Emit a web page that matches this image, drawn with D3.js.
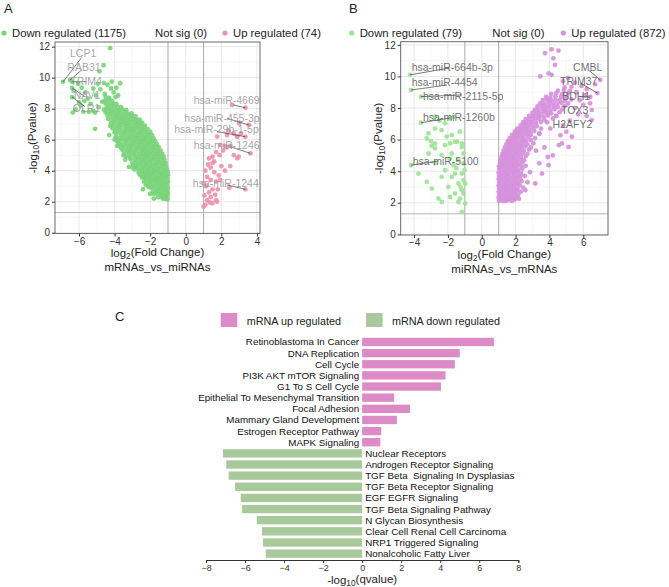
<!DOCTYPE html>
<html>
<head>
<meta charset="utf-8">
<script src="https://cdn.jsdelivr.net/npm/d3@7"></script>
<style>
body { margin: 0; background: #fff; }
text { font-family: "Liberation Sans", Arial, sans-serif; }
</style>
</head>
<body>
<div id="chart"></div>
<script>
// ---------- data: panel A (mRNAs_vs_miRNAs) ----------
const legendA = ["Down regulated (1175)", "Not sig (0)", "Up regulated (74)"];
const ticksA_x = [-6, -4, -2, 0, 2, 4];
const ticksY = [0, 2, 4, 6, 8, 10, 12];

const downA = [
  [-4.25,11.9],[-4.62,10.8],[-4.85,10.4],[-6.9,9.73],[-6.5,9.85],[-6.39,9.73],[-6.39,9.34],[-6.39,8.75],
  [-6.3,9.15],[-6.05,9.6],[-5.85,9.35],[-5.65,9.05],[-5.5,8.65],[-5.35,8.3],[-5.9,8.2],[-6.2,7.95],
  [-6.35,7.75],[-5.75,7.8],[-5.45,7.8],[-5.2,7.85],[-5.05,8.85],[-4.8,9.25],[-4.6,9.65],[-4.4,9.55],
  [-4.2,9.3],[-4.55,8.95],[-4.7,8.45],[-5.1,7.75],[-4.9,8.1],[-4.05,9.05],[-3.95,8.75],[-3.8,8.85],
  [-4.16,9.74],[-3.69,9.64],[-3.9,9.35],[-5.7,8.5],[-6.0,8.4],[-5.2,9.3],[-4.95,9.6],[-5.1,6.7],
  [-4.0,6.0],[-4.3,6.3],[-3.85,5.6],[-3.5,5.0],[-3.2,4.25],[-3.0,4.2],[-2.85,4.3],[-2.28,3.6],
  [-2.1,2.97],[-1.62,3.4],[-2.4,2.8],[-2.0,2.5],[-1.8,2.2],[-3.4,4.7],
  [-1.02,2.15],[-1.15,2.18],[-1.3,2.2],
  [-1.05,2.32],[-1.2,2.28],[-1.38,2.34],[-1.55,2.3],
  [-1.0,2.5],[-1.12,2.46],[-1.28,2.52],[-1.45,2.48],[-1.62,2.54],[-1.78,2.5],
  [-1.03,2.7],[-1.18,2.74],[-1.33,2.68],[-1.5,2.72],[-1.66,2.7],[-1.85,2.66],
  [-1.0,2.9],[-1.14,2.88],[-1.3,2.94],[-1.47,2.9],[-1.6,2.86],[-1.78,2.92],[-1.95,2.9],[-2.1,2.96],
  [-1.04,3.1],[-1.2,3.14],[-1.36,3.08],[-1.52,3.12],[-1.7,3.1],[-1.88,3.06],[-2.05,3.14],[-2.25,3.1],
  [-1.0,3.3],[-1.15,3.28],[-1.32,3.34],[-1.48,3.3],[-1.65,3.26],[-1.82,3.32],[-2.0,3.3],[-2.18,3.36],[-2.35,3.3],
  [-1.03,3.5],[-1.2,3.54],[-1.37,3.48],[-1.55,3.52],[-1.72,3.5],[-1.9,3.46],[-2.08,3.54],[-2.26,3.5],[-2.45,3.56],
  [-1.0,3.7],[-1.17,3.68],[-1.34,3.74],[-1.5,3.7],[-1.68,3.66],[-1.86,3.72],[-2.03,3.7],[-2.2,3.76],[-2.4,3.7],[-2.58,3.74],
  [-1.02,3.9],[-1.2,3.94],[-1.38,3.88],[-1.56,3.92],[-1.74,3.9],[-1.92,3.86],[-2.1,3.94],[-2.28,3.9],[-2.46,3.96],[-2.65,3.9],
  [-1.06,4.1],[-1.24,4.08],[-1.42,4.14],[-1.6,4.1],[-1.78,4.06],[-1.96,4.12],[-2.14,4.1],[-2.32,4.16],[-2.5,4.1],[-2.7,4.14],[-2.88,4.08],
  [-1.12,4.3],[-1.3,4.34],[-1.48,4.28],[-1.66,4.32],[-1.84,4.3],[-2.02,4.26],[-2.2,4.34],[-2.38,4.3],[-2.56,4.36],[-2.75,4.3],[-2.95,4.34],
  [-1.15,4.5],[-1.33,4.48],[-1.5,4.54],[-1.68,4.5],[-1.86,4.46],[-2.04,4.52],[-2.22,4.5],[-2.4,4.56],[-2.6,4.5],[-2.8,4.54],[-3.0,4.48],
  [-1.2,4.7],[-1.38,4.74],[-1.56,4.68],[-1.74,4.72],[-1.92,4.7],[-2.1,4.66],[-2.28,4.74],[-2.46,4.7],[-2.65,4.76],[-2.85,4.7],[-3.1,4.74],
  [-1.25,4.9],[-1.43,4.88],[-1.6,4.94],[-1.78,4.9],[-1.96,4.86],[-2.14,4.92],[-2.32,4.9],[-2.5,4.96],[-2.7,4.9],[-2.9,4.94],[-3.15,4.88],[-3.35,4.92],
  [-1.32,5.1],[-1.5,5.14],[-1.68,5.08],[-1.86,5.12],[-2.04,5.1],[-2.22,5.06],[-2.4,5.14],[-2.6,5.1],[-2.8,5.16],[-3.0,5.1],[-3.2,5.14],[-3.45,5.08],
  [-1.42,5.3],[-1.6,5.28],[-1.78,5.34],[-1.96,5.3],[-2.14,5.26],[-2.32,5.32],[-2.5,5.3],[-2.7,5.36],[-2.9,5.3],[-3.1,5.34],[-3.3,5.28],[-3.55,5.32],
  [-1.52,5.5],[-1.7,5.54],[-1.88,5.48],[-2.06,5.52],[-2.24,5.5],[-2.42,5.46],[-2.6,5.54],[-2.8,5.5],[-3.0,5.56],[-3.2,5.5],[-3.42,5.54],[-3.65,5.48],
  [-1.62,5.7],[-1.8,5.68],[-1.98,5.74],[-2.16,5.7],[-2.34,5.66],[-2.52,5.72],[-2.7,5.7],[-2.9,5.76],[-3.1,5.7],[-3.32,5.74],[-3.55,5.68],[-3.75,5.72],
  [-1.72,5.9],[-1.9,5.94],[-2.08,5.88],[-2.26,5.92],[-2.44,5.9],[-2.62,5.86],[-2.8,5.94],[-3.0,5.9],[-3.2,5.96],[-3.42,5.9],[-3.65,5.94],[-3.85,5.88],
  [-1.82,6.1],[-2.0,6.08],[-2.18,6.14],[-2.36,6.1],[-2.54,6.06],[-2.72,6.12],[-2.9,6.1],[-3.1,6.16],[-3.3,6.1],[-3.52,6.14],[-3.75,6.08],[-3.95,6.12],
  [-1.9,6.3],[-2.08,6.34],[-2.26,6.28],[-2.44,6.32],[-2.62,6.3],[-2.8,6.26],[-3.0,6.34],[-3.2,6.3],[-3.42,6.36],[-3.65,6.3],[-3.9,6.34],
  [-2.0,6.5],[-2.18,6.48],[-2.36,6.54],[-2.54,6.5],[-2.72,6.46],[-2.9,6.52],[-3.1,6.5],[-3.3,6.56],[-3.52,6.5],[-3.75,6.54],[-4.0,6.48],
  [-2.15,6.7],[-2.33,6.74],[-2.5,6.68],[-2.68,6.72],[-2.86,6.7],[-3.05,6.66],[-3.25,6.74],[-3.45,6.7],[-3.68,6.76],[-3.9,6.7],[-4.12,6.74],
  [-2.3,6.9],[-2.48,6.88],[-2.66,6.94],[-2.84,6.9],[-3.02,6.86],[-3.2,6.92],[-3.4,6.9],[-3.6,6.96],[-3.82,6.9],[-4.05,6.94],[-4.25,6.88],
  [-2.45,7.1],[-2.62,7.14],[-2.8,7.08],[-2.98,7.12],[-3.16,7.1],[-3.35,7.06],[-3.55,7.14],[-3.75,7.1],[-3.97,7.16],[-4.2,7.1],
  [-2.6,7.3],[-2.78,7.28],[-2.96,7.34],[-3.14,7.3],[-3.32,7.26],[-3.5,7.32],[-3.7,7.3],[-3.9,7.36],[-4.1,7.3],[-4.35,7.34],
  [-2.82,7.5],[-3.0,7.54],[-3.18,7.48],[-3.36,7.52],[-3.55,7.5],[-3.75,7.46],[-3.95,7.54],[-4.15,7.5],[-4.4,7.56],
  [-3.05,7.7],[-3.25,7.68],[-3.45,7.74],[-3.65,7.7],[-3.85,7.66],[-4.05,7.72],[-4.25,7.7],[-4.5,7.76],
  [-3.35,7.9],[-3.55,7.94],[-3.75,7.88],[-3.95,7.92],[-4.15,7.9],[-4.35,7.86],[-4.6,7.94],
  [-3.65,8.1],[-3.85,8.08],[-4.05,8.14],[-4.25,8.1],[-4.45,8.06],
  [-3.9,8.3],[-4.1,8.34],[-4.3,8.28],[-4.5,8.32],
  [-4.15,8.5],[-4.35,8.54],[-4.55,8.48],
  [-4.3,8.7],[-4.5,8.74]
];

const upA = [
  [1.0,1.68],[1.1,1.8],[1.2,2.1],[1.4,2.3],[1.3,2.6],[1.5,2.8],[1.4,3.4],[1.7,3.3],[1.2,3.6],[1.1,4.0],
  [1.4,4.2],[1.5,4.5],[1.3,4.8],[1.5,4.9],[1.7,5.2],[1.9,5.0],[2.1,5.3],[2.3,5.5],[2.5,5.6],[2.7,5.0],
  [2.9,4.8],[2.5,4.3],[2.0,4.3],[1.6,3.9],[1.8,2.8],[1.7,2.1],[1.5,1.9],[2.2,5.6],[2.9,6.2],[2.7,6.4],
  [3.1,6.4],[2.4,6.6],[2.6,8.24],[3.35,8.06],[3.0,7.06],[3.54,6.95],[3.35,6.19],[3.63,5.12],[3.35,2.8],
  [1.76,6.2],[2.32,6.3],[2.88,6.2],[1.94,5.66],[1.76,2.0],[1.94,3.4],[2.97,4.9],[1.05,2.4],[1.15,3.0],
  [1.25,4.4],[1.6,4.6],[1.0,3.2],[1.35,1.95],[1.85,3.7],[2.2,4.0],[1.65,2.45],[2.45,2.9]
];

// ---------- data: panel B (miRNAs_vs_mRNAs) ----------
const legendB = ["Down regulated (79)", "Not sig (0)", "Up regulated (872)"];
const ticksB_x = [-4, -2, 0, 2, 4, 6];

const downB = [
  [-4.24,10.1],[-4.18,9.14],[-3.59,8.72],[-3.59,7.07],[-4.18,4.38],
  [-2.76,7.45],[-2.17,7.03],[-1.87,7.35],[-1.67,7.45],[-3.15,6.39],[-2.76,6.7],[-2.37,6.6],[-2.07,6.19],
  [-1.77,6.28],[-1.47,5.86],[-1.18,5.76],[-1.87,5.76],[-2.76,5.44],[-3.25,6.07],[-2.76,5.75],[-2.17,5.65],
  [-1.58,5.86],[-1.18,5.54],[-1.08,5.12],[-1.77,5.12],[-2.37,5.02],[-3.15,5.12],[-1.38,4.7],[-1.08,4.49],
  [-1.67,4.38],[-2.17,4.06],[-1.58,3.85],[-1.18,3.85],[-1.08,3.43],[-1.38,3.22],[-1.77,3.64],[-1.97,3.01],
  [-1.18,2.8],[-1.58,2.58],[-0.98,1.95],[-1.18,1.42],[-1.38,2.05],[-1.87,2.37],[-2.36,2.05],[-2.56,2.27],
  [-2.95,2.9],[-3.25,3.32],[-3.74,3.85],[-1.08,2.58],[-1.28,2.26],[-0.98,3.22],[-1.02,4.06],[-2.76,4.49],
  [-2.37,3.64],[-2.96,5.6],[-3.0,5.9],[-1.3,6.5],[-2.5,7.2],[-1.5,4.2],[-1.25,3.0],[-1.9,4.8]
];

const upB = [
  [3.74,11.47],[4.13,11.72],[4.53,11.64],[4.23,11.15],[4.33,10.73],[3.46,10.0],[3.95,10.2],[4.13,10.1],
  [7.0,9.78],[6.83,8.95],[6.41,8.7],[6.5,7.87],[6.5,7.24],[5.33,6.18],[5.9,9.4],[6.2,9.2],[5.6,9.0],
  [5.8,8.5],[6.0,8.2],[5.5,8.0],[5.7,7.6],[6.2,7.5],[5.2,7.2],[4.8,6.9],[5.0,6.5],[4.74,5.76],[5.13,5.54],
  [3.95,4.38],[3.56,3.85],[3.16,3.22],[2.57,2.8],[2.2,2.25],[4.2,5.0],[3.7,5.5],[3.4,6.4],[4.4,7.5],
  [6.7,9.5],[6.1,8.8],[5.5,9.6],[5.1,9.9],[4.8,9.7],[6.4,8.3],
  [1.02,2.12],[1.15,2.16],[1.3,2.1],[1.45,2.14],[1.6,2.18],[1.78,2.12],[1.95,2.2],
  [1.0,2.32],[1.12,2.28],[1.26,2.34],[1.4,2.3],[1.55,2.26],[1.7,2.32],[1.86,2.3],[2.05,2.36],
  [1.03,2.5],[1.17,2.54],[1.32,2.48],[1.47,2.52],[1.62,2.5],[1.78,2.46],[1.95,2.54],[2.15,2.5],
  [1.0,2.7],[1.14,2.68],[1.28,2.74],[1.43,2.7],[1.58,2.66],[1.74,2.72],[1.9,2.7],[2.08,2.76],[2.3,2.7],
  [1.02,2.9],[1.16,2.94],[1.3,2.88],[1.45,2.92],[1.6,2.9],[1.76,2.86],[1.93,2.94],[2.12,2.9],[2.45,2.96],
  [1.0,3.1],[1.14,3.08],[1.28,3.14],[1.42,3.1],[1.57,3.06],[1.72,3.12],[1.88,3.1],[2.05,3.16],[2.25,3.1],
  [1.03,3.3],[1.17,3.34],[1.31,3.28],[1.46,3.32],[1.61,3.3],[1.77,3.26],[1.94,3.34],[2.12,3.3],[2.35,3.36],[2.7,3.3],
  [1.0,3.5],[1.14,3.48],[1.28,3.54],[1.43,3.5],[1.58,3.46],[1.74,3.52],[1.9,3.5],[2.08,3.56],[2.28,3.5],
  [1.02,3.7],[1.16,3.74],[1.3,3.68],[1.45,3.72],[1.6,3.7],[1.76,3.66],[1.93,3.74],[2.12,3.7],[2.32,3.76],[2.55,3.7],
  [1.0,3.9],[1.15,3.88],[1.3,3.94],[1.45,3.9],[1.6,3.86],[1.76,3.92],[1.92,3.9],[2.1,3.96],[2.3,3.9],[2.85,3.94],
  [1.03,4.1],[1.18,4.14],[1.33,4.08],[1.48,4.12],[1.63,4.1],[1.8,4.06],[1.97,4.14],[2.15,4.1],[2.4,4.16],
  [1.02,4.3],[1.17,4.28],[1.32,4.34],[1.47,4.3],[1.62,4.26],[1.78,4.32],[1.95,4.3],[2.13,4.36],[2.35,4.3],[2.6,4.34],
  [1.08,4.5],[1.22,4.54],[1.37,4.48],[1.52,4.52],[1.67,4.5],[1.83,4.46],[2.0,4.54],[2.18,4.5],[2.4,4.56],[3.4,4.5],
  [1.12,4.7],[1.27,4.68],[1.42,4.74],[1.57,4.7],[1.72,4.66],[1.88,4.72],[2.05,4.7],[2.25,4.76],[2.5,4.7],
  [1.17,4.9],[1.32,4.94],[1.47,4.88],[1.62,4.92],[1.78,4.9],[1.95,4.86],[2.13,4.94],[2.33,4.9],[2.6,4.96],[3.9,4.9],
  [1.22,5.1],[1.37,5.08],[1.52,5.14],[1.68,5.1],[1.85,5.06],[2.02,5.12],[2.2,5.1],[2.42,5.16],[2.7,5.1],
  [1.28,5.3],[1.43,5.34],[1.58,5.28],[1.74,5.32],[1.9,5.3],[2.07,5.26],[2.25,5.34],[2.48,5.3],[2.8,5.36],[3.2,5.3],
  [1.37,5.5],[1.52,5.48],[1.68,5.54],[1.84,5.5],[2.0,5.46],[2.17,5.52],[2.35,5.5],[2.58,5.56],[2.9,5.5],
  [1.45,5.7],[1.6,5.74],[1.76,5.68],[1.92,5.72],[2.08,5.7],[2.25,5.66],[2.45,5.74],[2.7,5.7],[3.05,5.76],[4.55,5.65],
  [1.55,5.9],[1.7,5.88],[1.86,5.94],[2.02,5.9],[2.2,5.86],[2.4,5.92],[2.62,5.9],[2.9,5.96],
  [1.65,6.1],[1.8,6.14],[1.96,6.08],[2.12,6.12],[2.3,6.1],[2.5,6.06],[2.75,6.14],[3.15,6.1],
  [1.8,6.3],[1.95,6.28],[2.1,6.34],[2.27,6.3],[2.45,6.26],[2.65,6.32],[2.9,6.3],[3.4,6.36],[4.65,6.27],
  [1.95,6.5],[2.1,6.54],[2.26,6.48],[2.43,6.52],[2.62,6.5],[2.85,6.46],[3.1,6.54],
  [2.1,6.7],[2.26,6.68],[2.42,6.74],[2.6,6.7],[2.8,6.66],[3.05,6.72],[3.5,6.7],[4.05,6.7],
  [2.3,6.9],[2.46,6.94],[2.63,6.88],[2.82,6.92],[3.0,6.9],[3.25,6.86],
  [2.45,7.1],[2.62,7.08],[2.8,7.14],[2.98,7.1],[3.2,7.06],[3.5,7.12],[3.85,7.1],
  [2.6,7.3],[2.8,7.34],[3.0,7.28],[3.2,7.32],[3.4,7.3],[3.7,7.26],[4.2,7.34],
  [2.8,7.5],[3.0,7.48],[3.2,7.54],[3.42,7.5],[3.65,7.46],[3.9,7.52],[4.4,7.5],
  [3.0,7.7],[3.2,7.74],[3.42,7.68],[3.65,7.72],[3.85,7.7],[4.1,7.66],[4.6,7.74],
  [3.15,7.9],[3.35,7.88],[3.6,7.94],[3.8,7.9],[4.05,7.86],[4.3,7.92],[4.75,7.9],
  [3.3,8.1],[3.55,8.14],[3.8,8.08],[4.0,8.12],[4.25,8.1],[4.5,8.06],[4.9,8.14],
  [3.45,8.3],[3.7,8.28],[3.95,8.34],[4.2,8.3],[4.45,8.26],[4.7,8.32],[5.1,8.3],
  [3.6,8.5],[3.85,8.54],[4.1,8.48],[4.35,8.52],[4.6,8.5],[4.9,8.46],[5.3,8.54],
  [3.8,8.7],[4.05,8.68],[4.35,8.74],[4.7,8.7],[5.0,8.66],
  [4.1,8.9],[4.4,8.94],[4.75,8.88],[5.1,8.92],
  [4.5,9.1],[4.85,9.14],[5.2,9.08],
  [4.9,9.3],[5.3,9.34]
];

// gene labels: [name, point x, point y]
const genesA = [
  ["LCP1", -6.9, 9.73], ["RAB31", -6.5, 9.85], ["TRIM4", -6.39, 9.73], ["NAV1", -6.39, 9.34], ["OLR1", -6.39, 8.75],
  ["hsa-miR-4669", 3.35, 8.06], ["hsa-miR-455-3p", 3.54, 6.95], ["hsa-miR-29b-1-5p", 3.35, 6.19],
  ["hsa-miR-1246", 3.63, 5.12], ["hsa-miR-1244", 3.35, 2.8]
];
const genesB = [
  ["hsa-miR-664b-3p", -4.24, 10.1], ["hsa-miR-4454", -4.18, 9.14], ["hsa-miR-2115-5p", -3.59, 8.72],
  ["hsa-miR-1260b", -3.59, 7.07], ["hsa-miR-5100", -4.18, 4.38],
  ["CMBL", 7.0, 9.78], ["TRIM37", 6.83, 8.95], ["BDH1", 6.41, 8.7], ["TOX3", 6.5, 7.87], ["H2AFY2", 6.5, 7.24]
];

// ---------- data: panel C ----------
const upTerms = ["Retinoblastoma In Cancer", "DNA Replication", "Cell Cycle", "PI3K AKT mTOR Signaling",
  "G1 To S Cell Cycle", "Epithelial To Mesenchymal Transition", "Focal Adhesion",
  "Mammary Gland Development", "Estrogen Receptor Pathway", "MAPK Signaling"];
const upValues = [6.75, 5.0, 4.75, 4.27, 4.04, 1.64, 2.45, 1.78, 0.98, 0.93];
const downTerms = ["Nuclear Receptors", "Androgen Receptor Signaling", "TGF Beta  Signaling In Dysplasias",
  "TGF Beta Receptor Signaling", "EGF EGFR Signaling", "TGF Beta Signaling Pathway", "N Glycan Biosynthesis",
  "Clear Cell Renal Cell Carcinoma", "NRP1 Triggered Signaling", "Nonalcoholic Fatty Liver"];
const downValues = [-7.13, -6.96, -6.84, -6.51, -6.22, -6.15, -5.40, -5.13, -5.08, -4.94];
const ticksC = [-8, -6, -4, -2, 0, 2, 4, 6, 8];
const legendC = ["mRNA up regulated", "mRNA down regulated"];

const svg = d3.select("#chart").append("svg")
  .attr("width", 669)
  .attr("height", 587);

function subText(sel, parts) {
  // parts: [text, isSub, backUp]
  parts.forEach(p => {
    const t = sel.append("tspan").text(p[0]);
    if (p[1]) t.attr("font-size", "0.72em").attr("dy", "0.3em");
    else if (p[2]) t.attr("dy", "-0.3em");
  });
}

function drawVolcano(o) {
  const x = d3.scaleLinear().domain(o.xDomain).range([o.left, o.right]);
  const y = d3.scaleLinear().domain(o.yDomain).range([o.bottom, o.top]);
  const g = svg.append("g");

  // minor & major grid
  g.selectAll(".xminor").data(o.xMinor).join("line")
    .attr("x1", d => x(d)).attr("x2", d => x(d)).attr("y1", o.top).attr("y2", o.bottom)
    .attr("stroke", "#f1f1f1").attr("stroke-width", 0.6);
  g.selectAll(".yminor").data([1, 3, 5, 7, 9, 11]).join("line")
    .attr("y1", d => y(d)).attr("y2", d => y(d)).attr("x1", o.left).attr("x2", o.right)
    .attr("stroke", "#f1f1f1").attr("stroke-width", 0.6);
  g.selectAll(".xmajor").data(o.xTicks).join("line")
    .attr("x1", d => x(d)).attr("x2", d => x(d)).attr("y1", o.top).attr("y2", o.bottom)
    .attr("stroke", "#e2e2e2").attr("stroke-width", 0.8);
  g.selectAll(".ymajor").data(ticksY).join("line")
    .attr("y1", d => y(d)).attr("y2", d => y(d)).attr("x1", o.left).attr("x2", o.right)
    .attr("stroke", "#e2e2e2").attr("stroke-width", 0.8);

  // thresholds
  g.selectAll(".vthr").data([-1, 1]).join("line")
    .attr("x1", d => x(d)).attr("x2", d => x(d)).attr("y1", o.top).attr("y2", o.bottom)
    .attr("stroke", "#a9a9a9").attr("stroke-width", 1);
  g.append("line")
    .attr("x1", o.left).attr("x2", o.right).attr("y1", y(1.301)).attr("y2", y(1.301))
    .attr("stroke", "#b5b5b5").attr("stroke-width", 1);

  // points
  g.append("g").selectAll("circle").data(o.down).join("circle")
    .attr("cx", d => x(d[0])).attr("cy", d => y(d[1])).attr("r", 2.4)
    .attr("fill", o.downColor).attr("fill-opacity", 0.92);
  g.append("g").selectAll("circle").data(o.up).join("circle")
    .attr("cx", d => x(d[0])).attr("cy", d => y(d[1])).attr("r", 2.4)
    .attr("fill", o.upColor).attr("fill-opacity", 0.92);

  // gene labels
  o.genes.forEach((gn, i) => {
    const lay = o.geneLayout[i];
    if (lay.seg) {
      g.append("line")
        .attr("x1", x(gn[1])).attr("y1", y(gn[2]))
        .attr("x2", x(lay.seg[0])).attr("y2", y(lay.seg[1]))
        .attr("stroke", "#222").attr("stroke-width", 0.6);
    }
    g.append("text")
      .attr("x", x(lay.at[0])).attr("y", y(lay.at[1]))
      .attr("text-anchor", lay.anchor)
      .attr("font-size", 10.5).attr("fill", o.labelColor).attr("fill-opacity", 0.9)
      .text(gn[0]);
  });

  // border
  g.append("rect")
    .attr("x", o.left).attr("y", o.top)
    .attr("width", o.right - o.left).attr("height", o.bottom - o.top)
    .attr("fill", "none").attr("stroke", "#5a5a5a").attr("stroke-width", 0.9);

  // axes
  const ax = g.append("g").attr("transform", "translate(0," + o.bottom + ")")
    .call(d3.axisBottom(x).tickValues(o.xTicks).tickSize(3).tickPadding(1));
  const ay = g.append("g").attr("transform", "translate(" + o.left + ",0)")
    .call(d3.axisLeft(y).tickValues(ticksY).tickSize(3).tickPadding(2));
  [ax, ay].forEach(a => {
    a.select(".domain").remove();
    a.selectAll("line").attr("stroke", "#333");
    a.selectAll("text").attr("font-size", 10).attr("fill", "#333")
      .attr("font-family", "Liberation Sans, Arial, sans-serif");
  });

  // axis titles
  const cx = (o.left + o.right) / 2;
  const xt = g.append("text").attr("x", cx).attr("y", o.bottom + 23.5)
    .attr("text-anchor", "middle").attr("font-size", 11.5).attr("fill", "#222");
  subText(xt, [["log"], ["2", true], ["(Fold Change)", false, true]]);
  g.append("text").attr("x", cx).attr("y", o.bottom + 37.5)
    .attr("text-anchor", "middle").attr("font-size", 11.5).attr("fill", "#222")
    .text(o.compare);
  const cy = (o.top + o.bottom) / 2;
  const yt = g.append("text")
    .attr("transform", "translate(" + (o.left - 18) + "," + cy + ") rotate(-90)")
    .attr("text-anchor", "middle").attr("font-size", 11.5).attr("fill", "#222");
  subText(yt, [["-log"], ["10", true], ["(Pvalue)", false, true]]);

  // legend
  const lg = g.append("g");
  lg.append("circle").attr("cx", o.legX[0]).attr("cy", 33).attr("r", 2.6).attr("fill", o.downColor);
  lg.append("circle").attr("cx", o.legX[2]).attr("cy", 33).attr("r", 2.6).attr("fill", o.upColor);
  o.legend.forEach((t, i) => {
    lg.append("text").attr("x", o.legX[i] + (i === 1 ? 0 : 8)).attr("y", 37)
      .attr("font-size", 11.3).attr("fill", "#222").text(t);
  });

  // panel letter
  svg.append("text").attr("x", o.letterX).attr("y", 13)
    .attr("font-size", 13).attr("fill", "#222").text(o.letter);
}

drawVolcano({
  letter: "A", letterX: 4,
  left: 55, right: 260, top: 42, bottom: 233.5,
  xDomain: [-7.35, 4.17], yDomain: [-0.05, 12.3],
  xTicks: ticksA_x, xMinor: [-7, -5, -3, 3],
  down: downA, up: upA,
  downColor: "#79d479", upColor: "#ee93ae",
  genes: genesA, labelColor: "#9a9a9a",
  geneLayout: [
    { at: [-5.77, 11.34], anchor: "middle", seg: [-5.85, 11.3] },
    { at: [-5.72, 10.43], anchor: "middle", seg: [-5.85, 10.5] },
    { at: [-5.6, 9.53], anchor: "middle", seg: [-5.57, 9.74] },
    { at: [-5.55, 8.63], anchor: "middle", seg: [-5.66, 8.77] },
    { at: [-5.58, 7.79], anchor: "middle", seg: [-5.66, 8.13] },
    { at: [4.15, 8.3], anchor: "end", seg: [2.68, 8.24] },
    { at: [4.15, 7.14], anchor: "end", seg: [2.32, 7.38] },
    { at: [4.1, 6.43], anchor: "end", seg: [1.76, 6.52] },
    { at: [4.15, 5.37], anchor: "end", seg: [2.5, 5.55] },
    { at: [4.1, 2.98], anchor: "end", seg: [2.32, 3.08] }
  ],
  compare: "mRNAs_vs_miRNAs",
  legend: legendA, legX: [4, 155, 225]
});

drawVolcano({
  letter: "B", letterX: 349,
  left: 400.7, right: 608, top: 41.7, bottom: 235,
  xDomain: [-4.79, 7.46], yDomain: [-0.04, 12.2],
  xTicks: ticksB_x, xMinor: [-3, 3, 5, 7],
  down: downB, up: upB,
  downColor: "#9de496", upColor: "#d690dc",
  genes: genesB, labelColor: "#5e5e5e",
  geneLayout: [
    { at: [-4.14, 10.37], anchor: "start", seg: [-1.87, 10.54] },
    { at: [-4.14, 9.42], anchor: "start", seg: [-2.05, 9.46] },
    { at: [-3.47, 8.5], anchor: "start", seg: [-1.16, 8.83] },
    { at: [-3.47, 7.17], anchor: "start", seg: [-1.87, 7.37] },
    { at: [-4.08, 4.4], anchor: "start", seg: [-2.58, 4.65] },
    { at: [7.12, 10.35], anchor: "end", seg: [6.31, 10.41] },
    { at: [6.83, 9.46], anchor: "end", seg: [5.82, 9.59] },
    { at: [6.41, 8.51], anchor: "end", seg: [5.82, 8.72] },
    { at: [6.3, 7.62], anchor: "end" },
    { at: [6.53, 6.73], anchor: "end" }
  ],
  compare: "miRNAs_vs_mRNAs",
  legend: legendB, legX: [351.7, 492.3, 563.3]
});

// ---------- panel C ----------
function drawEnrichment() {
  const terms = upTerms.concat(downTerms);
  const vals = upValues.concat(downValues);
  const rows = terms.map((t, i) => ({ term: t, value: vals[i], up: i < upTerms.length }));

  const x = d3.scaleLinear().domain([-8, 8]).range([206, 518.3]);
  const y = d3.scaleBand().domain(terms).range([336.4, 559.2]).paddingInner(0.25).paddingOuter(0.125);
  const upColor = "#dc8bc6", downColor = "#a8c99b";
  const g = svg.append("g");

  g.selectAll("rect.bar").data(rows).join("rect")
    .attr("class", "bar")
    .attr("x", d => x(Math.min(0, d.value)))
    .attr("y", d => y(d.term))
    .attr("width", d => Math.abs(x(d.value) - x(0)))
    .attr("height", y.bandwidth())
    .attr("fill", d => d.up ? upColor : downColor);

  g.selectAll("text.term").data(rows).join("text")
    .attr("class", "term")
    .attr("x", d => d.up ? x(0) - 3 : x(0) + 3)
    .attr("y", d => y(d.term) + y.bandwidth() / 2)
    .attr("dy", "0.36em")
    .attr("text-anchor", d => d.up ? "end" : "start")
    .attr("font-size", 9.8).attr("fill", "#111")
    .style("white-space", "pre")
    .text(d => d.term);

  const ax = g.append("g").attr("transform", "translate(0,560)")
    .call(d3.axisBottom(x).tickValues(ticksC).tickSize(3).tickPadding(2));
  ax.select(".domain").attr("stroke", "#333");
  ax.selectAll("line").attr("stroke", "#333");
  ax.selectAll("text").attr("font-size", 9).attr("fill", "#333")
    .attr("font-family", "Liberation Sans, Arial, sans-serif");

  const xt = g.append("text").attr("x", x(0)).attr("y", 584)
    .attr("text-anchor", "middle").attr("font-size", 11.5).attr("fill", "#222");
  subText(xt, [["-log"], ["10", true], ["(qvalue)", false, true]]);

  // legend
  const lg = g.append("g");
  [upColor, downColor].forEach((c, i) => {
    const lx = i === 0 ? 220.7 : 366;
    lg.append("rect").attr("x", lx).attr("y", 313).attr("width", 16.6).attr("height", 14).attr("fill", c);
    lg.append("text").attr("x", lx + 26).attr("y", 324.5)
      .attr("font-size", 10.8).attr("fill", "#222").text(legendC[i]);
  });

  svg.append("text").attr("x", 115).attr("y", 321)
    .attr("font-size", 13).attr("fill", "#222").text("C");
}
drawEnrichment();
</script>
</body>
</html>
